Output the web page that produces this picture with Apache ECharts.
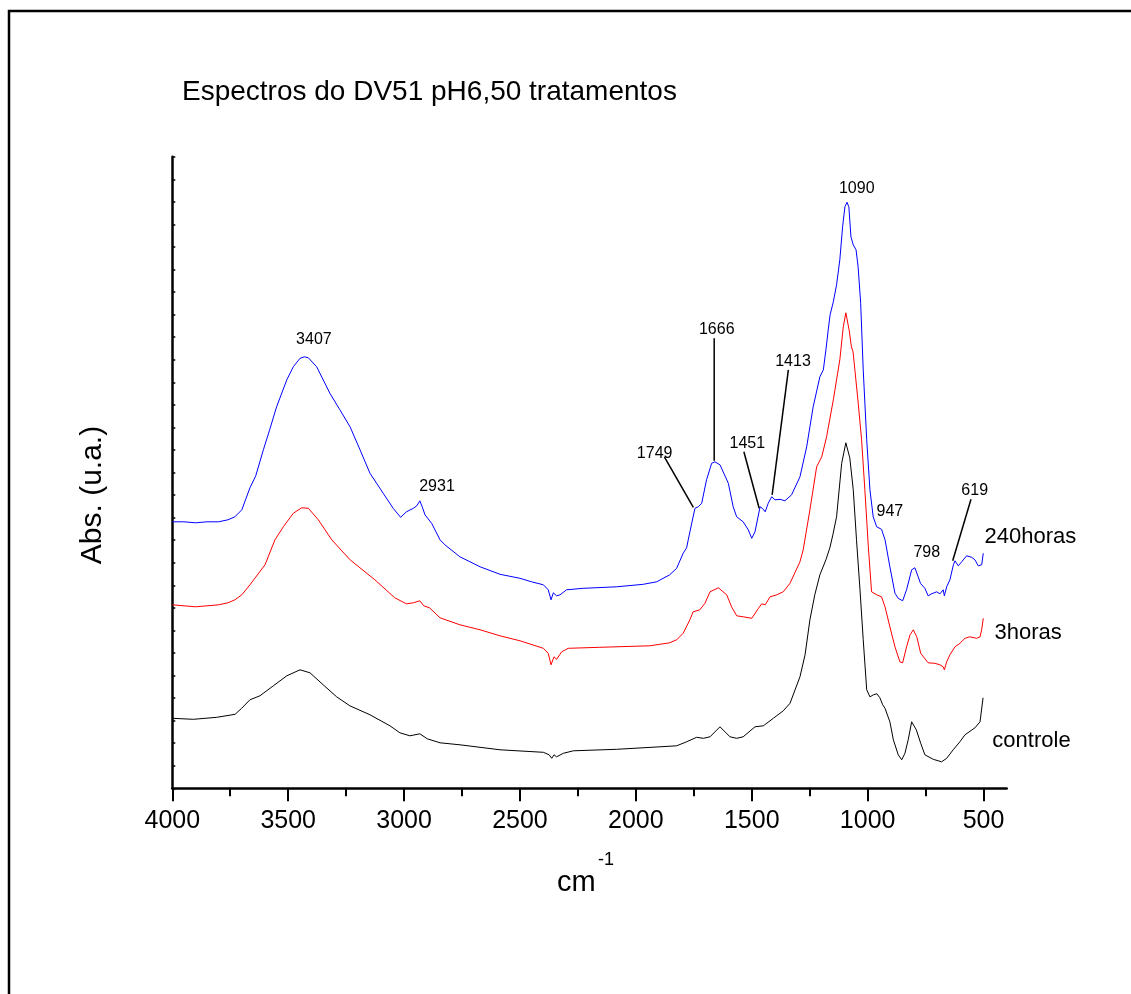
<!DOCTYPE html>
<html>
<head>
<meta charset="utf-8">
<script src="https://cdn.jsdelivr.net/npm/echarts@6/dist/echarts.min.js"></script>
<style>
  html, body { margin: 0; padding: 0; background: #fff; }
  #chart { width: 1131px; height: 994px; }
</style>
</head>
<body>
<div id="chart"></div>
<script>
// FTIR spectra of DV51 at pH 6.50: [wavenumber (cm-1), absorbance (a.u., offset per curve)]
const spectrum240h = [
  [4000,0.533],[3950,0.533],[3900,0.531],[3850,0.533],[3800,0.533],[3760,0.537],[3730,0.543],
  [3700,0.557],[3665,0.601],[3640,0.625],[3607,0.677],[3580,0.717],[3550,0.763],[3506,0.817],
  [3478,0.843],[3449,0.860],[3430,0.863],[3413,0.861],[3377,0.843],[3320,0.790],[3277,0.757],
  [3233,0.723],[3190,0.677],[3147,0.630],[3090,0.590],[3047,0.560],[3015,0.542],[2990,0.553],
  [2960,0.560],[2945,0.565],[2932,0.575],[2920,0.561],[2910,0.547],[2881,0.530],[2845,0.497],
  [2824,0.487],[2759,0.463],[2672,0.443],[2586,0.428],[2500,0.420],[2450,0.413],[2399,0.407],
  [2378,0.397],[2366,0.377],[2356,0.391],[2349,0.393],[2342,0.385],[2327,0.387],[2299,0.397],
  [2227,0.400],[2083,0.403],[1968,0.408],[1910,0.413],[1854,0.427],[1824,0.440],[1796,0.470],
  [1781,0.481],[1774,0.497],[1759,0.530],[1745,0.560],[1731,0.563],[1716,0.570],[1695,0.617],
  [1673,0.650],[1659,0.653],[1637,0.647],[1601,0.610],[1580,0.563],[1565,0.543],[1537,0.533],
  [1515,0.517],[1500,0.500],[1486,0.513],[1464,0.563],[1454,0.560],[1442,0.553],[1429,0.570],
  [1414,0.583],[1400,0.577],[1378,0.578],[1357,0.575],[1328,0.587],[1292,0.623],[1263,0.683],
  [1235,0.763],[1206,0.823],[1191,0.837],[1180,0.877],[1170,0.917],[1162,0.947],[1148,0.973],
  [1134,1.007],[1120,1.057],[1108,1.123],[1098,1.163],[1089,1.172],[1081,1.163],[1072,1.103],
  [1062,1.087],[1050,1.077],[1041,1.043],[1030,0.970],[1019,0.837],[1004,0.697],[990,0.597],
  [976,0.543],[961,0.523],[940,0.518],[925,0.497],[904,0.443],[882,0.390],[868,0.380],
  [849,0.375],[832,0.397],[810,0.437],[796,0.441],[782,0.423],[772,0.410],[753,0.400],
  [739,0.385],[724,0.389],[702,0.393],[688,0.389],[674,0.397],[669,0.385],[659,0.403],
  [645,0.417],[630,0.447],[623,0.455],[609,0.445],[594,0.453],[573,0.465],[551,0.462],
  [537,0.457],[523,0.445],[508,0.447],[501,0.470]
];

const spectrum3h = [
  [4000,0.367],[3950,0.365],[3900,0.363],[3850,0.365],[3800,0.367],[3760,0.371],[3730,0.377],
  [3700,0.387],[3665,0.407],[3600,0.447],[3557,0.497],[3521,0.523],[3478,0.550],[3442,0.561],
  [3413,0.560],[3370,0.537],[3312,0.497],[3233,0.457],[3126,0.417],[3040,0.381],[2990,0.369],
  [2960,0.371],[2932,0.375],[2915,0.365],[2890,0.361],[2845,0.341],[2759,0.327],[2672,0.317],
  [2586,0.305],[2500,0.295],[2399,0.280],[2378,0.270],[2366,0.247],[2353,0.263],[2342,0.258],
  [2320,0.273],[2292,0.280],[2156,0.282],[1940,0.285],[1854,0.291],[1824,0.297],[1796,0.310],
  [1767,0.337],[1753,0.353],[1724,0.357],[1702,0.370],[1680,0.393],[1644,0.401],[1608,0.387],
  [1587,0.363],[1565,0.345],[1537,0.343],[1500,0.340],[1471,0.360],[1457,0.369],[1442,0.367],
  [1421,0.383],[1392,0.387],[1364,0.393],[1335,0.410],[1292,0.453],[1278,0.477],[1249,0.557],
  [1220,0.643],[1198,0.663],[1177,0.703],[1148,0.777],[1120,0.857],[1105,0.923],[1094,0.951],
  [1080,0.917],[1070,0.883],[1063,0.873],[1055,0.837],[1040,0.767],[1026,0.697],[1012,0.597],
  [997,0.483],[983,0.393],[961,0.387],[940,0.383],[925,0.363],[904,0.323],[882,0.283],
  [861,0.253],[849,0.251],[832,0.283],[817,0.307],[803,0.317],[788,0.303],[771,0.270],
  [739,0.251],[710,0.250],[688,0.247],[674,0.243],[669,0.237],[659,0.253],[645,0.267],
  [623,0.283],[602,0.290],[580,0.300],[559,0.303],[530,0.300],[515,0.303],[508,0.317],
  [501,0.340]
];

const spectrumControle = [
  [4000,0.140],[3909,0.138],[3808,0.142],[3729,0.148],[3701,0.160],[3665,0.177],[3622,0.185],
  [3564,0.205],[3506,0.225],[3449,0.237],[3406,0.231],[3349,0.207],[3291,0.183],[3234,0.165],
  [3147,0.147],[3061,0.125],[3018,0.111],[2975,0.105],[2932,0.109],[2900,0.099],[2845,0.091],
  [2759,0.087],[2586,0.077],[2399,0.072],[2374,0.067],[2363,0.060],[2353,0.067],[2342,0.063],
  [2313,0.070],[2270,0.075],[2083,0.078],[1896,0.083],[1824,0.085],[1781,0.093],[1738,0.102],
  [1709,0.100],[1680,0.103],[1637,0.123],[1594,0.103],[1565,0.100],[1537,0.103],[1486,0.123],
  [1450,0.125],[1407,0.140],[1364,0.155],[1335,0.170],[1292,0.223],[1270,0.267],[1249,0.337],
  [1228,0.387],[1206,0.427],[1180,0.457],[1163,0.481],[1150,0.507],[1134,0.543],[1112,0.650],
  [1094,0.691],[1077,0.661],[1062,0.597],[1048,0.497],[1033,0.397],[1019,0.297],[1004,0.197],
  [990,0.183],[975,0.187],[960,0.189],[947,0.181],[935,0.167],[925,0.160],[904,0.133],
  [889,0.097],[868,0.067],[853,0.057],[839,0.070],[825,0.097],[810,0.133],[790,0.117],
  [771,0.090],[753,0.067],[717,0.058],[681,0.053],[659,0.060],[631,0.077],[602,0.093],
  [580,0.107],[537,0.121],[515,0.133],[502,0.181]
];

// axis layout values
const xMajorTicks = [4000, 3500, 3000, 2500, 2000, 1500, 1000, 500];
const xMinorTicks = [3750, 3250, 2750, 2250, 1750, 1250, 750];
const xRange = [400, 4000];
const yMax = 1.2632;
const yDivisions = 28;

// band assignments: [wavenumber, absorbance, text]
const peakLabels = [
  [3389, 0.897, '3407'], [2858, 0.603, '2931'], [1919, 0.669, '1749'],
  [1651, 0.917, '1666'], [1519, 0.690, '1451'], [1322, 0.853, '1413'],
  [1047, 1.200, '1090'], [904, 0.553, '947'], [745, 0.471, '798'], [538, 0.595, '619']
];
// leader segments: [w1, a1, w2, a2]
const leaderLines = [
  [1662, 0.900, 1662, 0.655],
  [1877, 0.663, 1752, 0.562],
  [1534, 0.673, 1468, 0.560],
  [1342, 0.837, 1412, 0.587],
  [554, 0.578, 633, 0.455]
];
// curve names placed at the right end: [wavenumber, absorbance, text]
const curveNames = [
  [498, 0.503, '240horas'], [455, 0.311, '3horas'], [464, 0.095, 'controle']
];

const FONT = '"Liberation Sans", Arial, Helvetica, sans-serif';
const chart = echarts.init(document.getElementById('chart'), null, { renderer: 'canvas' });

const spectraSeries = [
  { name: 'controle', data: spectrumControle, color: '#000000' },
  { name: '3horas', data: spectrum3h, color: '#ff0000' },
  { name: '240horas', data: spectrum240h, color: '#0000ff' }
].map(s => ({
  type: 'line', name: s.name, data: s.data, xAxisIndex: 0, yAxisIndex: 0,
  showSymbol: false, symbol: 'none', smooth: false, silent: true,
  lineStyle: { color: s.color, width: 1 }, z: 3
}));

const leaderSeries = leaderLines.map(l => ({
  type: 'line', data: [[l[0], l[1]], [l[2], l[3]]], xAxisIndex: 0, yAxisIndex: 0,
  showSymbol: false, symbol: 'none', silent: true,
  lineStyle: { color: '#000', width: 1.5 }, z: 4
}));

const textLabel = (fontSize, position) => ({
  show: true, position: position, distance: 0, color: '#000', opacity: 1,
  fontSize: fontSize, fontFamily: FONT, textBorderWidth: 0
});

chart.setOption({
  animation: false,
  backgroundColor: '#ffffff',
  grid: { left: 172.3, right: 124.3, top: 156.7, bottom: 205.7, outerBoundsMode: 'none' },
  xAxis: [
    {
      type: 'value', min: xRange[0], max: xRange[1], inverse: true,
      axisLine: { show: true, lineStyle: { color: '#000', width: 2.5 } },
      axisTick: { show: true, inside: false, length: 13, customValues: xMajorTicks,
                  lineStyle: { color: '#000', width: 2 } },
      axisLabel: { show: true, customValues: xMajorTicks, margin: 20, color: '#000',
                   fontSize: 25, fontFamily: FONT, formatter: v => String(v) },
      splitLine: { show: false }
    },
    {
      type: 'value', min: xRange[0], max: xRange[1], inverse: true, position: 'bottom',
      axisLine: { show: false },
      axisTick: { show: true, inside: false, length: 8, customValues: xMinorTicks,
                  lineStyle: { color: '#000', width: 2 } },
      axisLabel: { show: false, customValues: xMinorTicks },
      splitLine: { show: false }
    }
  ],
  yAxis: {
    type: 'value', min: 0, max: yMax, interval: yMax / yDivisions,
    axisLine: { show: true, lineStyle: { color: '#000', width: 2.5 } },
    axisTick: { show: true, inside: true, length: 3, lineStyle: { color: '#000', width: 1.5 } },
    axisLabel: { show: false },
    splitLine: { show: false }
  },
  graphic: [
    { type: 'rect', shape: { x: 9, y: 11, width: 1300, height: 1200 },
      style: { fill: 'none', stroke: '#000', lineWidth: 2.5 }, silent: true, z: 10 },
    { type: 'text', x: 182, y: 92.5,
      style: { text: 'Espectros do DV51 pH6,50 tratamentos', fill: '#000',
               font: '28px ' + FONT, textAlign: 'left', textVerticalAlign: 'middle',
               align: 'left', verticalAlign: 'middle' } },
    { type: 'text', x: 93, y: 495, rotation: Math.PI / 2,
      style: { text: 'Abs. (u.a.)', fill: '#000', font: '30px ' + FONT,
               textAlign: 'center', textVerticalAlign: 'middle', align: 'center', verticalAlign: 'middle' } },
    { type: 'text', x: 557, y: 883,
      style: { text: 'cm', fill: '#000', font: '29px ' + FONT,
               textAlign: 'left', textVerticalAlign: 'middle', align: 'left', verticalAlign: 'middle' } },
    { type: 'text', x: 598, y: 860,
      style: { text: '-1', fill: '#000', font: '18px ' + FONT,
               textAlign: 'left', textVerticalAlign: 'middle', align: 'left', verticalAlign: 'middle' } }
  ],
  series: [
    ...spectraSeries,
    ...leaderSeries,
    {
      type: 'scatter',
      data: peakLabels.map(p => ({ value: [p[0], p[1]], label: { formatter: p[2], color: '#000' } })),
      symbolSize: 1, itemStyle: { color: 'rgba(0,0,0,0)' }, silent: true, z: 5,
      label: textLabel(16, 'inside')
    },
    {
      type: 'scatter',
      data: curveNames.map(p => ({ value: [p[0], p[1]], label: { formatter: p[2], color: '#000' } })),
      symbolSize: 1, itemStyle: { color: 'rgba(0,0,0,0)' }, silent: true, z: 5,
      label: textLabel(22, 'right')
    }
  ]
});
</script>
</body>
</html>
